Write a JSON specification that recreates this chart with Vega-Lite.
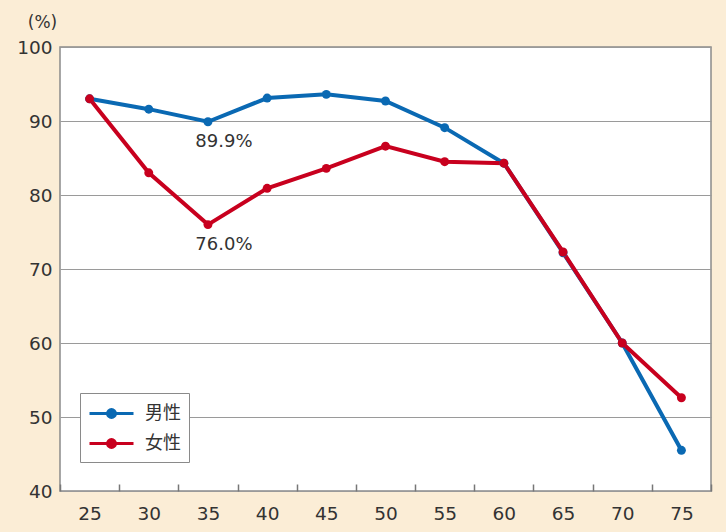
{
  "$schema": "https://vega.github.io/schema/vega-lite/v6.json",
  "autosize": "none",
  "width": 651,
  "height": 444,
  "padding": {"left": 60, "top": 47, "right": 15, "bottom": 41},
  "background": "#FBEDD6",
  "config": {
    "font": "DejaVu Sans",
    "view": {"fill": "#FFFFFF", "stroke": "#8a8a8a", "strokeWidth": 1.5}
  },
  "datasets": {
    "rates": [
      {"age": 25, "sex": "男性", "value": 93.0},
      {"age": 30, "sex": "男性", "value": 91.6},
      {"age": 35, "sex": "男性", "value": 89.9},
      {"age": 40, "sex": "男性", "value": 93.1},
      {"age": 45, "sex": "男性", "value": 93.6},
      {"age": 50, "sex": "男性", "value": 92.7},
      {"age": 55, "sex": "男性", "value": 89.1},
      {"age": 60, "sex": "男性", "value": 84.3},
      {"age": 65, "sex": "男性", "value": 72.2},
      {"age": 70, "sex": "男性", "value": 60.0},
      {"age": 75, "sex": "男性", "value": 45.5},
      {"age": 25, "sex": "女性", "value": 93.0},
      {"age": 30, "sex": "女性", "value": 83.0},
      {"age": 35, "sex": "女性", "value": 76.0},
      {"age": 40, "sex": "女性", "value": 80.9},
      {"age": 45, "sex": "女性", "value": 83.6},
      {"age": 50, "sex": "女性", "value": 86.6},
      {"age": 55, "sex": "女性", "value": 84.5},
      {"age": 60, "sex": "女性", "value": 84.3},
      {"age": 65, "sex": "女性", "value": 72.3},
      {"age": 70, "sex": "女性", "value": 60.0},
      {"age": 75, "sex": "女性", "value": 52.6}
    ],
    "notes": [
      {"age": 35, "value": 89.9, "label": "89.9%"},
      {"age": 35, "value": 76.0, "label": "76.0%"}
    ]
  },
  "encoding": {
    "x": {
      "field": "age",
      "type": "ordinal",
      "scale": {"type": "band", "paddingInner": 0, "paddingOuter": 0},
      "axis": {
        "title": null,
        "labelAngle": 0,
        "labelFontSize": 18.5,
        "labelColor": "#333333",
        "labelPadding": 20,
        "tickBand": "extent",
        "tickSize": -7,
        "tickColor": "#777777",
        "tickWidth": 1.5,
        "domain": false,
        "grid": false
      }
    },
    "y": {
      "field": "value",
      "type": "quantitative",
      "scale": {"domain": [40, 100], "nice": false, "zero": false},
      "axis": {
        "title": "(%)",
        "titleAngle": 0,
        "titleX": -18,
        "titleY": -25,
        "titleAlign": "center",
        "titleBaseline": "middle",
        "titleFontSize": 17,
        "titleFontWeight": "normal",
        "titleColor": "#333333",
        "values": [40, 50, 60, 70, 80, 90, 100],
        "labelFontSize": 18.5,
        "labelColor": "#333333",
        "labelPadding": 8,
        "ticks": false,
        "domain": false,
        "grid": true,
        "gridColor": "#9a9a9a",
        "gridWidth": 1.2
      }
    }
  },
  "layer": [
    {
      "data": {"name": "rates"},
      "mark": {"type": "line", "strokeWidth": 4},
      "encoding": {
        "color": {
          "field": "sex",
          "type": "nominal",
          "scale": {"domain": ["男性", "女性"], "range": ["#0a69b3", "#c8001e"]},
          "legend": {
            "title": null,
            "orient": "none",
            "legendX": 20,
            "legendY": 346,
            "fillColor": "#FFFFFF",
            "strokeColor": "#8a8a8a",
            "padding": 8,
            "symbolType": "M-1,0L3,0M1.36,0A0.36,0.36,0,1,1,0.64,0A0.36,0.36,0,1,1,1.36,0",
            "symbolSize": 484,
            "symbolStrokeWidth": 3,
            "labelFont": "Noto Sans CJK JP",
            "labelFontSize": 18,
            "labelColor": "#333333",
            "labelOffset": 32,
            "rowPadding": 7,
            "labelLimit": 200,
            "encode": {
              "symbols": {"update": {"fill": {"scale": "color", "field": "value"}}}
            }
          }
        }
      }
    },
    {
      "data": {"name": "rates"},
      "mark": {"type": "point", "filled": true, "size": 80, "opacity": 1},
      "encoding": {
        "color": {"field": "sex", "type": "nominal", "legend": null}
      }
    },
    {
      "data": {"name": "notes"},
      "mark": {"type": "text", "dy": 20, "dx": 16, "fontSize": 18, "color": "#333333", "baseline": "middle"},
      "encoding": {
        "text": {"field": "label"}
      }
    }
  ]
}
